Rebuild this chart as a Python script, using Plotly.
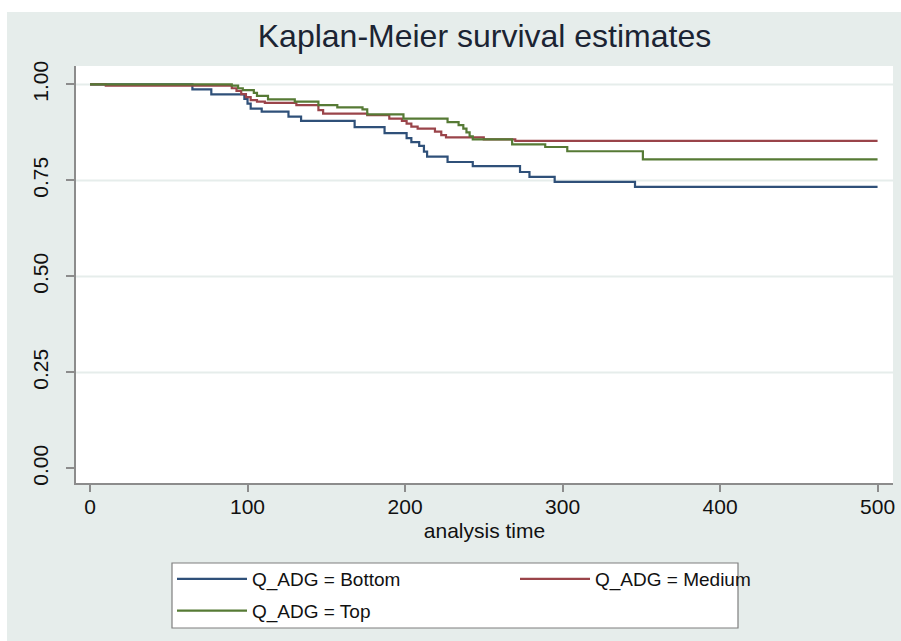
import plotly.graph_objects as go

# ---------------- data ----------------
time_bottom = [0, 65, 77, 98, 100, 102, 109, 126, 134, 168, 187, 201, 204, 209, 212, 214, 227, 243, 273, 279, 295, 346, 500]
surv_bottom = [1.0, 0.987, 0.974, 0.962, 0.950, 0.937, 0.929, 0.916, 0.905, 0.889, 0.873, 0.860, 0.850, 0.840, 0.825, 0.812, 0.798, 0.787, 0.772, 0.759, 0.746, 0.733, 0.733]

time_medium = [0, 10, 90, 93, 96, 99, 102, 106, 111, 131, 145, 148, 176, 190, 198, 201, 204, 208, 219, 223, 226, 250, 270, 500]
surv_medium = [1.0, 0.997, 0.990, 0.983, 0.975, 0.967, 0.959, 0.955, 0.952, 0.946, 0.933, 0.924, 0.920, 0.911, 0.905, 0.898, 0.890, 0.885, 0.877, 0.868, 0.862, 0.857, 0.853, 0.853]

time_top = [0, 90, 94, 97, 104, 106, 113, 130, 145, 157, 173, 176, 199, 227, 234, 237, 239, 241, 243, 268, 289, 303, 351, 500]
surv_top = [1.0, 0.997, 0.990, 0.985, 0.978, 0.970, 0.961, 0.955, 0.946, 0.940, 0.935, 0.922, 0.911, 0.902, 0.894, 0.885, 0.875, 0.865, 0.857, 0.844, 0.837, 0.826, 0.805, 0.805]

series_names = ["Q_ADG = Bottom", "Q_ADG = Medium", "Q_ADG = Top"]
x_ticks = [0, 100, 200, 300, 400, 500]
y_ticks = [0.0, 0.25, 0.50, 0.75, 1.00]

title_text = "Kaplan-Meier survival estimates"
x_title = "analysis time"

# ---------------- styling ----------------
FONT = "Liberation Sans, Arial, Helvetica, sans-serif"
BG = "#e6edeb"
COLORS = ["#2f5079", "#9a444a", "#567a35"]
W, H = 901, 641
ML, MR, MT, MB = 76, 8, 66, 158
PW, PH = W - ML - MR, H - MT - MB


def px_to_paper_x(px):
    return (px - ML) / PW


def px_to_paper_y(py):
    return (H - MB - py) / PH


fig = go.Figure()

series = [
    (time_bottom, surv_bottom, series_names[0], COLORS[0], "legend"),
    (time_medium, surv_medium, series_names[1], COLORS[1], "legend2"),
    (time_top, surv_top, series_names[2], COLORS[2], "legend"),
]
for t, s, name, color, leg in series:
    fig.add_trace(go.Scatter(
        x=t, y=s, mode="lines", name=name,
        line=dict(shape="hv", color=color, width=2.2),
        legend=leg, legendgroup=name,
    ))

shapes = []
# white strip at top / left of the outer region
shapes.append(dict(type="rect", xref="paper", yref="paper",
                   x0=px_to_paper_x(-5), x1=px_to_paper_x(W + 5),
                   y0=px_to_paper_y(12), y1=px_to_paper_y(-5),
                   fillcolor="white", line=dict(width=0), layer="below"))
shapes.append(dict(type="rect", xref="paper", yref="paper",
                   x0=px_to_paper_x(-5), x1=px_to_paper_x(7),
                   y0=px_to_paper_y(H + 5), y1=px_to_paper_y(-5),
                   fillcolor="white", line=dict(width=0), layer="below"))
# horizontal grid lines (not at 0)
for yv in y_ticks[1:]:
    shapes.append(dict(type="line", xref="paper", yref="y", x0=0, x1=1,
                       y0=yv, y1=yv, line=dict(color=BG, width=2), layer="below"))
# legend box
shapes.append(dict(type="rect", xref="paper", yref="paper",
                   x0=px_to_paper_x(172), x1=px_to_paper_x(738),
                   y0=px_to_paper_y(628), y1=px_to_paper_y(563),
                   fillcolor="white", line=dict(color="#7f7f7f", width=1.2),
                   layer="below"))

legend_common = dict(
    orientation="v", xref="container", yref="container",
    xanchor="left", yanchor="top",
    bgcolor="rgba(0,0,0,0)", borderwidth=0,
    font=dict(family=FONT, size=19, color="#111111"),
    itemwidth=70, tracegroupgap=4, itemclick=False, itemdoubleclick=False,
)

fig.update_layout(
    width=W, height=H,
    margin=dict(l=ML, r=MR, t=MT, b=MB, autoexpand=False),
    paper_bgcolor=BG, plot_bgcolor="white",
    shapes=shapes,
    title=dict(text=title_text, x=0.5, xref="paper", xanchor="center",
               y=1 - 36 / H, yref="container", yanchor="middle",
               font=dict(family=FONT, size=32, color="#1b2433")),
    xaxis=dict(
        range=[-8.9, 509.8], tickvals=x_ticks, ticktext=[str(v) for v in x_ticks],
        showgrid=False, zeroline=False, showline=True, linecolor="#8c8c8c", linewidth=1.5,
        ticks="outside", ticklen=7, tickwidth=1.5, tickcolor="#8c8c8c",
        ticklabelstandoff=-3,
        tickfont=dict(family=FONT, size=21, color="#111111"),
        title=dict(text=x_title, standoff=6, font=dict(family=FONT, size=21, color="#111111")),
    ),
    yaxis=dict(
        range=[-0.038, 1.048], tickvals=y_ticks, tickformat=".2f",
        showgrid=False, zeroline=False, showline=True, linecolor="#8c8c8c", linewidth=1.5,
        ticks="outside", ticklen=8, tickwidth=1.5, tickcolor="#8c8c8c",
        tickangle=-90, ticklabelstandoff=10,
        tickfont=dict(family=FONT, size=21, color="#111111"),
    ),
    legend=dict(x=172 / W, y=1 - 560 / H, **legend_common),
    legend2=dict(x=515 / W, y=1 - 560 / H, **legend_common),
    showlegend=True,
)

fig.write_html("out.html")
